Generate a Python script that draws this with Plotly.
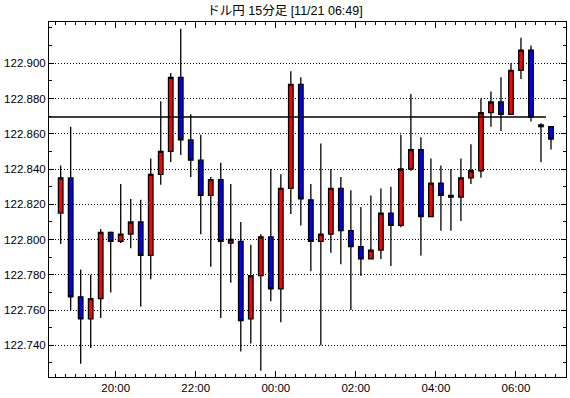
import pandas as pd
import plotly.graph_objects as go

TITLE = "ドル円 15分足 [11/21 06:49]"
START = "2024-11-20 18:30"
N_BARS = 50
OPEN = [122.815, 122.835, 122.7675, 122.755, 122.7665, 122.804, 122.799, 122.803, 122.810, 122.791,
        122.837, 122.850, 122.892, 122.8565, 122.845, 122.825, 122.834, 122.798, 122.799, 122.755,
        122.7795, 122.8015, 122.772, 122.829, 122.888, 122.8225, 122.799, 122.803, 122.829, 122.805,
        122.796, 122.789, 122.794, 122.815, 122.808, 122.840, 122.851, 122.813, 122.832, 122.825,
        122.824, 122.835, 122.839, 122.872, 122.878, 122.871, 122.896, 122.9075, 122.864, 122.864]
HIGH = [122.842, 122.864, 122.783, 122.780, 122.806, 122.8045, 122.8315, 122.823, 122.8225, 122.846,
        122.8785, 122.8945, 122.9195, 122.871, 122.8595, 122.8355, 122.8435, 122.8315, 122.810, 122.797,
        122.803, 122.840, 122.837, 122.8955, 122.892, 122.8315, 122.8545, 122.840, 122.8355, 122.828,
        122.8185, 122.825, 122.829, 122.830, 122.8595, 122.8825, 122.858, 122.846, 122.842, 122.840,
        122.846, 122.854, 122.880, 122.884, 122.892, 122.900, 122.9145, 122.910, 122.866, 122.864]
LOW = [122.7975, 122.760, 122.7295, 122.7385, 122.7555, 122.770, 122.798, 122.795, 122.762, 122.7775,
       122.831, 122.844, 122.848, 122.8355, 122.803, 122.7845, 122.7555, 122.7755, 122.7365, 122.741,
       122.7255, 122.765, 122.753, 122.8145, 122.808, 122.782, 122.740, 122.7925, 122.786, 122.760,
       122.7795, 122.7888, 122.789, 122.785, 122.807, 122.839, 122.791, 122.813, 122.805, 122.805,
       122.8105, 122.8315, 122.835, 122.864, 122.8615, 122.871, 122.891, 122.867, 122.844, 122.851]
CLOSE = [122.835, 122.7675, 122.755, 122.7665, 122.804, 122.799, 122.803, 122.810, 122.791, 122.837,
         122.850, 122.892, 122.8565, 122.845, 122.825, 122.834, 122.799, 122.800, 122.754, 122.7795,
         122.8015, 122.772, 122.829, 122.888, 122.823, 122.799, 122.803, 122.829, 122.805, 122.796,
         122.789, 122.794, 122.815, 122.808, 122.840, 122.851, 122.813, 122.832, 122.825, 122.824,
         122.835, 122.839, 122.872, 122.878, 122.871, 122.896, 122.9075, 122.8695, 122.865, 122.857]
REF_LEVEL = 122.8695
Y_TICKS = [122.740, 122.760, 122.780, 122.800, 122.820, 122.840, 122.860, 122.880, 122.900]

starts = pd.date_range(START, periods=N_BARS, freq="15min")
centers = starts + pd.Timedelta(minutes=7.5)

fig = go.Figure()
fig.add_trace(go.Candlestick(
    x=centers, open=OPEN, high=HIGH, low=LOW, close=CLOSE,
    increasing=dict(fillcolor="#ff0000", line=dict(color="#000000", width=1.3)),
    decreasing=dict(fillcolor="#0000ff", line=dict(color="#000000", width=1.3)),
    whiskerwidth=0, showlegend=False,
))

fig.add_shape(type="line", xref="x", yref="y",
              x0=starts[0] - pd.Timedelta(minutes=10), x1=starts[-1],
              y0=REF_LEVEL, y1=REF_LEVEL, line=dict(color="black", width=1.3))

tickfont = dict(family="Liberation Sans, Arial", size=11.5, color="black")

fig.update_layout(
    width=570, height=398,
    margin=dict(l=49, r=4, t=22, b=21, autoexpand=False),
    paper_bgcolor="white", plot_bgcolor="white",
    title=dict(text=TITLE, x=0.5, xref="container", y=1 - 11 / 398, yref="container",
               xanchor="center", yanchor="middle",
               font=dict(family="Liberation Sans, Noto Sans CJK JP", size=12.5, color="black")),
    boxgap=0.35,
    xaxis=dict(
        type="date", automargin=False,
        range=[pd.Timestamp("2024-11-20 18:20"), pd.Timestamp("2024-11-21 07:15")],
        rangeslider=dict(visible=False),
        tick0="2024-11-20 20:00", dtick=2 * 3600 * 1000, tickformat="%H:%M",
        ticks="inside", ticklen=6, tickcolor="black", tickwidth=1,
        minor=dict(ticks="inside", ticklen=3, dtick=15 * 60 * 1000, tickcolor="black", showgrid=False),
        showline=True, linecolor="black", linewidth=1, mirror="allticks",
        showgrid=False, zeroline=False, tickfont=tickfont,
    ),
    yaxis=dict(
        automargin=False,
        range=[122.7220, 122.9234],
        tickvals=Y_TICKS, ticktext=[f"{v:.3f}" for v in Y_TICKS],
        ticks="inside", ticklen=5, tickcolor="black", tickwidth=1,
        minor=dict(ticks="inside", ticklen=3, dtick=0.01, tick0=122.74, tickcolor="black", showgrid=False),
        showline=True, linecolor="black", linewidth=1, mirror="allticks",
        showgrid=True, gridcolor="black", gridwidth=1, griddash="1px,2px",
        zeroline=False, tickfont=tickfont,
    ),
)

fig.write_html("out.html", config={"displayModeBar": False},
               post_script="document.body.style.margin='0px';")
